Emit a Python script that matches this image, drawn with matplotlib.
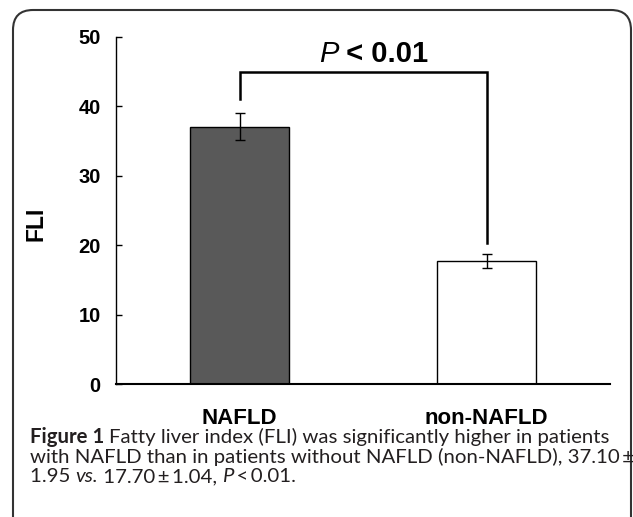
import matplotlib
matplotlib.use("Agg")
import matplotlib.pyplot as plt
from matplotlib.patches import FancyBboxPatch
from matplotlib.transforms import IdentityTransform

# data
groups = ["NAFLD", "non-NAFLD"]
fli_mean = [37.10, 17.70]
fli_sd = [1.95, 1.04]
bar_colors = ["#595959", "white"]
yticks = [0, 10, 20, 30, 40, 50]

W, H = 633, 517
fig = plt.figure(figsize=(W / 100, H / 100), dpi=100)
ax = fig.add_axes([116 / W, (H - 384) / H, 494 / W, 347 / H])
renderer = fig.canvas.get_renderer()

x = [0, 1]
ax.bar(x, fli_mean, width=0.4, color=bar_colors, edgecolor="black", linewidth=1.0, zorder=2)
ax.errorbar(x, fli_mean, yerr=fli_sd, fmt="none", ecolor="black", elinewidth=1.0,
            capsize=3.5, capthick=1.0, zorder=3)

ax.set_xlim(-0.5, 1.5)
ax.set_ylim(0, 50)
ax.set_yticks(yticks)
ax.set_xticks(x)
ax.set_xticklabels(groups, fontsize=16, fontweight="bold", family="Liberation Sans")
ax.set_yticklabels([str(v) for v in yticks], fontsize=14.5, fontweight="bold", family="Liberation Sans")
ax.tick_params(axis="y", direction="in", length=4.5, width=1.0, pad=11)
ax.tick_params(axis="x", length=0, pad=17)
for s in ["top", "right"]:
    ax.spines[s].set_visible(False)
ax.spines["left"].set_linewidth(1.0)
ax.spines["bottom"].set_linewidth(1.5)

ax.set_ylabel("FLI", fontsize=16.5, fontweight="bold", family="Liberation Sans")
ax.yaxis.set_label_coords((47 - 116) / 494, (384 - 224) / 347)

# significance bracket
ax.plot([0, 0, 1, 1], [41, 45, 45, 20.3], color="black", linewidth=1.8, zorder=3,
        solid_joinstyle="miter", clip_on=False)
p_txt = ax.text(0.322, 46.4, "P", fontsize=21, fontstyle="italic", ha="left", va="baseline",
                family="Liberation Sans")
pw = p_txt.get_window_extent(renderer=renderer).width
ax.annotate(" < 0.01", xy=(0.322, 46.4), xytext=(pw * 72 / 100, 0), textcoords="offset points",
            fontsize=21, fontweight="bold", ha="left", va="baseline", family="Liberation Sans")

# rounded frame around the figure (bottom is cut off)
frame = FancyBboxPatch((13, -40), 618, H - 10 + 40, boxstyle="round,pad=0,rounding_size=20",
                       transform=IdentityTransform(), facecolor="none",
                       edgecolor="#333333", linewidth=1.5)
fig.add_artist(frame)

# caption, drawn run by run
cap_font = "Lato"
cap_color = "#231f20"

line1 = [("Figure 1 ", "bold", "normal"),
         ("Fatty liver index (FLI) was significantly higher in patients", "normal", "normal")]
line2 = [("with NAFLD than in patients without NAFLD (non-NAFLD), 37.10\u2009\u00b1", "normal", "normal")]
line3 = [("1.95 ", "normal", "normal"), ("vs.", "normal", "italic"),
         (" 17.70\u2009\u00b1\u20091.04, ", "normal", "normal"), ("P", "normal", "italic"),
         ("\u2009<\u20090.01.", "normal", "normal")]


def draw_line(runs, x0, y0, size):
    xpos = x0
    for txt, weight, style in runs:
        t = fig.text(xpos / W, (H - y0) / H, txt, fontsize=size, family=cap_font,
                     fontweight=weight, fontstyle=style, color=cap_color,
                     ha="left", va="baseline")
        xpos += t.get_window_extent(renderer=renderer).width
    return xpos


# size the caption so the first line spans the same width as the original
probe = [fig.text(0, 0, txt, fontsize=13, family=cap_font, fontweight=wt)
         for txt, wt, st in line1]
w13 = sum(t.get_window_extent(renderer=renderer).width for t in probe)
for t in probe:
    t.remove()
cap_size = 13 * 578 / w13

draw_line(line1, 30, 443, cap_size)
draw_line(line2, 30, 463, cap_size)
draw_line(line3, 30, 482, cap_size)

fig.savefig("out.png", dpi=100)
